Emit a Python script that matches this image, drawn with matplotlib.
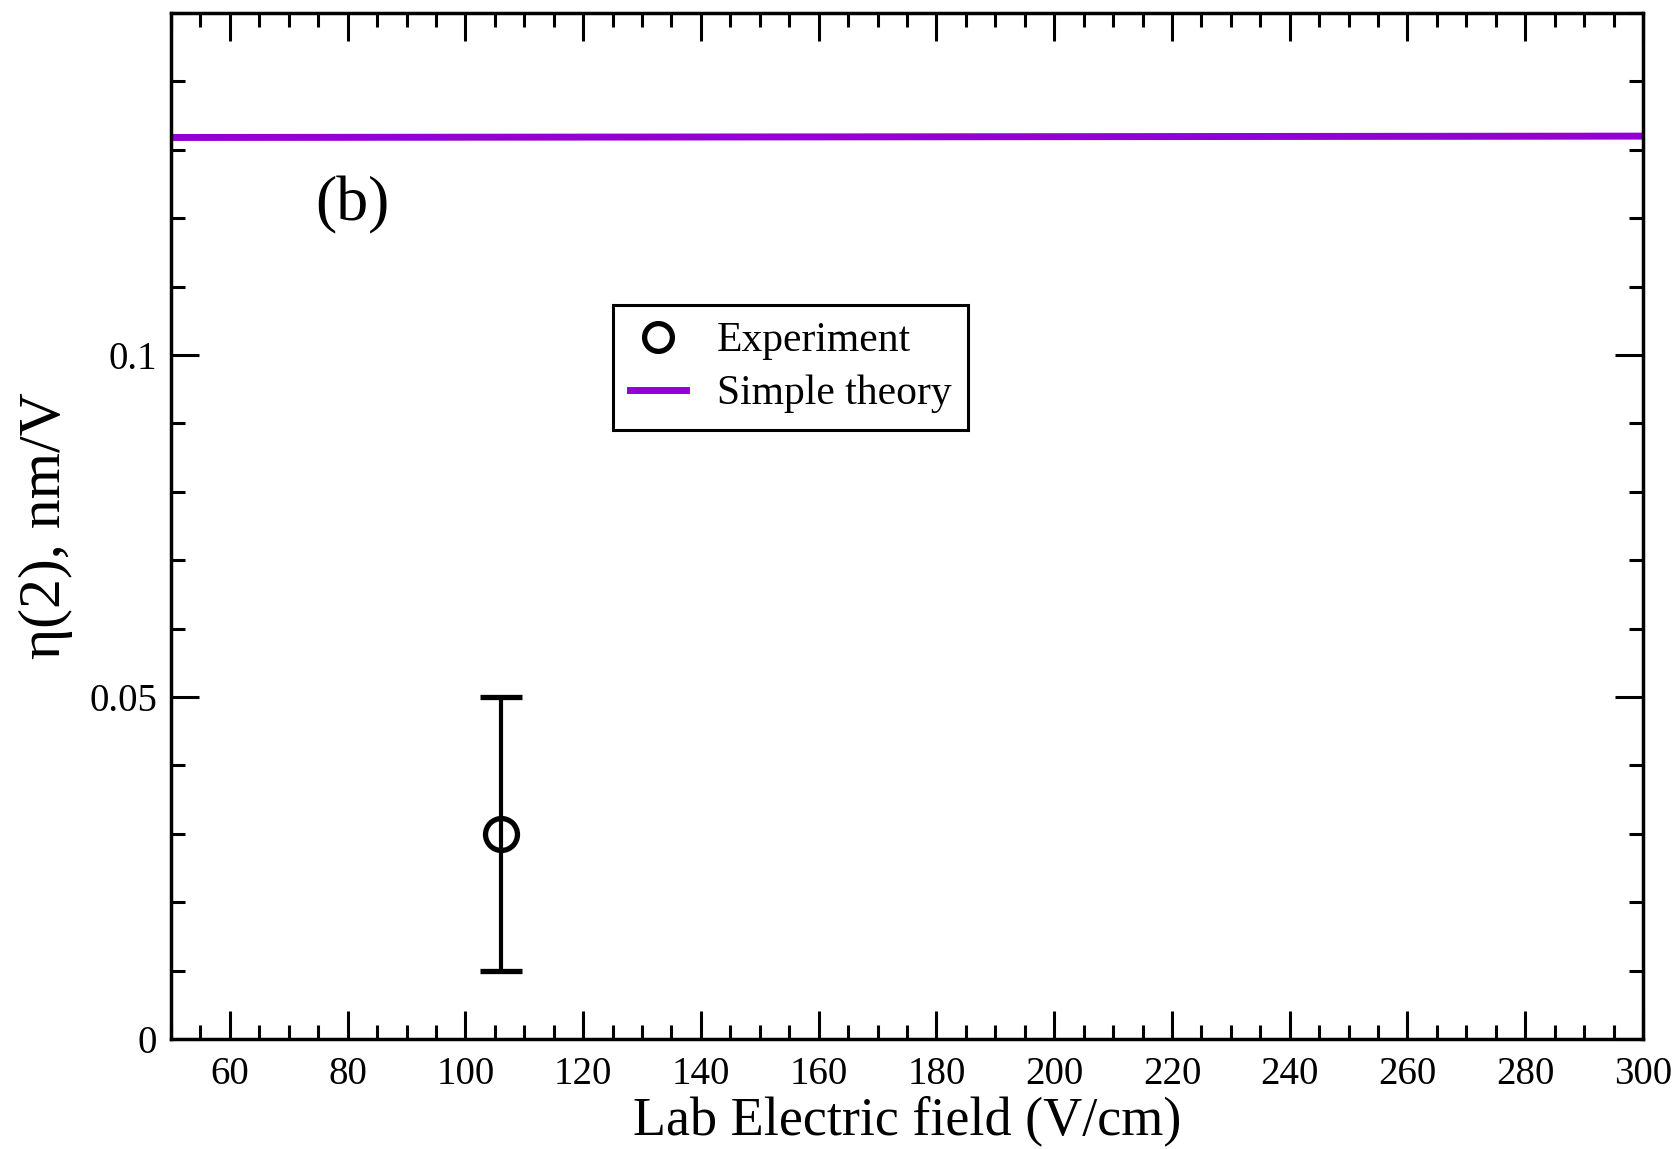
import matplotlib
matplotlib.use("Agg")
import matplotlib.pyplot as plt
from matplotlib.ticker import MultipleLocator
from matplotlib.lines import Line2D

exp_x = [106.0]
exp_y = [0.030]
exp_err = [0.020]
theory_x = [50, 300]
theory_y = [0.1318, 0.1320]

plt.rcParams['font.family'] = ['Liberation Serif', 'DejaVu Serif']

fig = plt.figure(figsize=(16.8, 11.49), dpi=100)
ax = fig.add_axes([171/1680, 1-1039/1149, (1643-171)/1680, (1039-13)/1149])

ax.plot(theory_x, theory_y, color='#9400D3', lw=5, zorder=2)
ax.errorbar(exp_x, exp_y, yerr=exp_err, fmt='o', mfc='none', mec='black', mew=3.8,
            ms=23, ecolor='black', elinewidth=3, capsize=15, capthick=3, zorder=3)

ax.set_xlim(50, 300)
ax.set_ylim(0, 0.15)
ax.xaxis.set_minor_locator(MultipleLocator(5))
ax.yaxis.set_minor_locator(MultipleLocator(0.01))
ax.set_xticks(range(60, 301, 20))
ax.set_yticks([0, 0.05, 0.1])
ax.set_yticklabels(['0', '0.05', '0.1'])

ax.tick_params(which='both', direction='in', top=True, right=True, width=2.2, labelsize=28)
ax.tick_params(which='major', length=20)
ax.tick_params(axis='x', which='major', pad=12)
ax.tick_params(axis='y', which='major', pad=10)
ax.tick_params(which='minor', length=10)
for s in ax.spines.values():
    s.set_linewidth(2.5)

ax.set_xlabel('Lab Electric field (V/cm)', fontsize=39, labelpad=2)
ax.set_ylabel('η(2), nm/V', fontsize=43, labelpad=12)

ax.text(80.8, 0.1218, '(b)', fontsize=46, ha='center', va='center')

h_exp = Line2D([], [], ls='none', marker='o', mfc='none', mec='black', mew=3.8, ms=20)
h_th = Line2D([], [], color='#9400D3', lw=5)
leg = ax.legend([h_exp, h_th], ['Experiment', 'Simple theory'],
                loc='upper left', bbox_to_anchor=((613-171)/(1643-171), 1-(305-13)/(1039-13)),
                fontsize=30, frameon=True, fancybox=False, edgecolor='black',
                borderpad=0.4, handlelength=1.35, handletextpad=0.75, labelspacing=0.35,
                borderaxespad=0)
leg.get_frame().set_linewidth(2.2)
leg.get_frame().set_alpha(1)

fig.savefig('out.png', dpi=100)
